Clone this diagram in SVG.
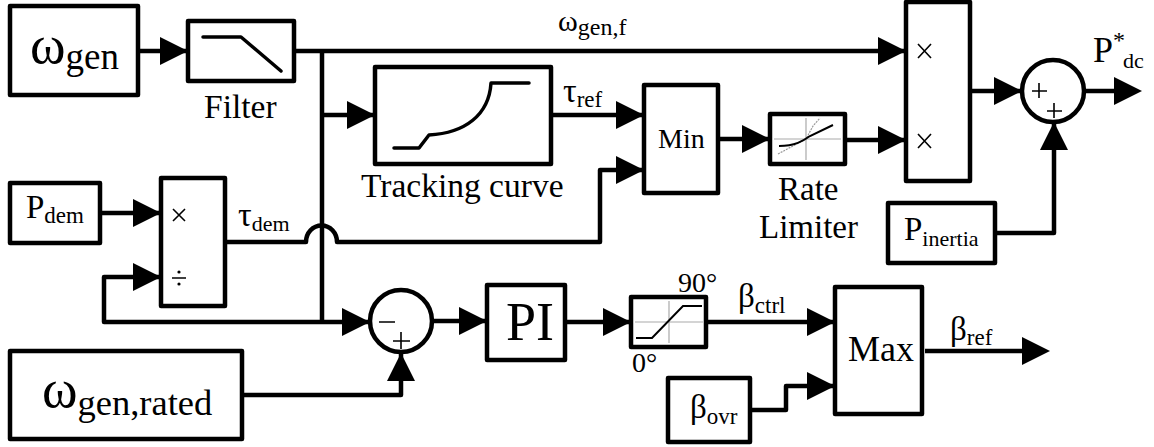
<svg xmlns="http://www.w3.org/2000/svg" width="1154" height="447" viewBox="0 0 1154 447">
<style>
text{font-family:"Liberation Serif","Times New Roman",serif;fill:#000}
.b{fill:#fff;stroke:#000;stroke-width:4.5;stroke-linejoin:round}
.w{fill:none;stroke:#000;stroke-width:4.5;stroke-linejoin:round}
.g{fill:none;stroke:#000;stroke-width:3.5;stroke-linecap:round;stroke-linejoin:round}
.t{fill:none;stroke:#000;stroke-width:1.6}
.a{fill:#aaa;stroke:#aaa;stroke-width:1.2}
</style>
<defs>
<marker id="ah" viewBox="0 0 28 28" refX="28" refY="14" markerWidth="28" markerHeight="28" markerUnits="userSpaceOnUse" orient="auto"><path d="M0 0L28 14L0 28Z" fill="#000"/></marker>
<marker id="af" viewBox="0 0 28 28" refX="18" refY="14" markerWidth="28" markerHeight="28" markerUnits="userSpaceOnUse" orient="auto"><path d="M0 0L28 14L0 28Z" fill="#000"/></marker>
</defs>
<g id="connectors">
<path class="w" d="M138 51H188" marker-end="url(#ah)"/>
<path class="w" d="M294 51H906" marker-end="url(#ah)"/>
<path class="w" d="M322 51V322"/>
<path class="w" d="M322 115H375" marker-end="url(#ah)"/>
<path class="w" d="M551 115H644" marker-end="url(#ah)"/>
<path class="w" d="M225 242H306A15 16 0 0 1 337 242H600V170H644" marker-end="url(#ah)"/>
<path class="w" d="M718 139H770" marker-end="url(#ah)"/>
<path class="w" d="M845 140H906" marker-end="url(#ah)"/>
<path class="w" d="M970 91H1022" marker-end="url(#ah)"/>
<path class="w" d="M1084 91H1132" marker-end="url(#af)"/>
<path class="w" d="M995 233H1054V122" marker-end="url(#ah)"/>
<path class="w" d="M100 213H161" marker-end="url(#ah)"/>
<path class="w" d="M322 322H104V277H161" marker-end="url(#ah)"/>
<path class="w" d="M322 322H370" marker-end="url(#ah)"/>
<path class="w" d="M242 395H401V353" marker-end="url(#ah)"/>
<path class="w" d="M432 321H487" marker-end="url(#ah)"/>
<path class="w" d="M565 322H631" marker-end="url(#ah)"/>
<path class="w" d="M707 322H835" marker-end="url(#ah)"/>
<path class="w" d="M925 351H1040" marker-end="url(#af)"/>
<path class="w" d="M750 410H786V386H835" marker-end="url(#ah)"/>
</g>
<g id="omega-gen"><rect class="b" x="10" y="6" width="128" height="89"/><text x="30" y="63" font-size="54">ω<tspan font-size="37" dy="6">gen</tspan></text></g>
<g id="filter"><rect class="b" x="188" y="21" width="106" height="60"/><path class="g" d="M203 37H241L281 71"/><text x="204" y="118" font-size="33.5">Filter</text></g>
<g id="tracking-curve"><rect class="b" x="375" y="67" width="176" height="97"/><path class="g" d="M394 148H419L429 135C465 133 489 115 491 83H529"/><text x="361" y="197" font-size="33.5">Tracking curve</text></g>
<g id="min"><rect class="b" x="644" y="85" width="74" height="108"/><text x="658" y="148" font-size="28">Min</text></g>
<g id="rate-limiter"><rect class="b" x="770" y="114" width="75" height="50"/>
<path class="a" d="M774 139H841M806 118V160"/><path d="M778 154L806 139L813 126L820 118" fill="none" stroke="#999" stroke-width="1.2" stroke-dasharray="2 1"/><path d="M779 146C795 146 803 141 810 136L833 125" fill="none" stroke="#000" stroke-width="2"/>
<text x="778" y="200" font-size="33">Rate</text><text x="759" y="238" font-size="33">Limiter</text></g>
<g id="product"><rect class="b" x="906" y="2" width="64" height="179"/><path class="t" d="M918 44L931 58M931 44L918 58M918 134L931 148M931 134L918 148"/></g>
<g id="sum-dc"><circle class="b" cx="1053" cy="91" r="31"/><path class="t" d="M1032 91H1047M1039 83V98M1047 111H1062M1054 103V118"/><text x="1093" y="62" font-size="36">P<tspan font-size="24" dy="-14">*</tspan></text><text x="1123" y="68" font-size="22">dc</text></g>
<g id="p-inertia"><rect class="b" x="888" y="203" width="107" height="60"/><text x="904" y="240" font-size="33">P<tspan font-size="22" dy="6">inertia</tspan></text></g>
<g id="p-dem"><rect class="b" x="10" y="183" width="90" height="60"/><text x="26" y="218" font-size="33">P<tspan font-size="23" dy="5">dem</tspan></text></g>
<g id="divide"><rect class="b" x="161" y="178" width="64" height="128"/><path class="t" d="M173 209L185 221M185 209L173 221M172 278H186"/><circle cx="179" cy="272" r="1.6"/><circle cx="179" cy="284" r="1.6"/></g>
<g id="sum-pi"><circle class="b" cx="401" cy="321" r="31"/><path class="t" d="M379 322H395M393 341H410M401 332V349"/></g>
<g id="omega-rated"><rect class="b" x="10" y="351" width="232" height="88"/><text x="42" y="407" font-size="54">ω<tspan font-size="36.5" dy="8">gen,rated</tspan></text></g>
<g id="pi"><rect class="b" x="487" y="285" width="78" height="75"/><text x="506" y="340" font-size="54">PI</text></g>
<g id="saturation"><rect class="b" x="631" y="297" width="75" height="50"/><path class="a" d="M635 322H703M669 301V343"/><path d="M636 338H652L683 306H702" fill="none" stroke="#000" stroke-width="2"/></g>
<g id="max"><rect class="b" x="835" y="287" width="87" height="127"/><text x="848" y="361" font-size="36">Max</text></g>
<g id="beta-ovr"><rect class="b" x="668" y="378" width="82" height="64"/><text x="690" y="418" font-size="33">β<tspan font-size="23" dy="6">ovr</tspan></text></g>
<g id="labels">
<text x="558" y="31" font-size="30">ω<tspan font-size="24" dy="4">gen,f</tspan></text>
<text x="563" y="102" font-size="34">τ<tspan font-size="23" dy="5">ref</tspan></text>
<text x="238" y="226" font-size="34">τ<tspan font-size="22" dy="5">dem</tspan></text>
<text x="678" y="292" font-size="28">90°</text>
<text x="632" y="372" font-size="28">0°</text>
<text x="738" y="307" font-size="33">β<tspan font-size="23" dy="6">ctrl</tspan></text>
<text x="950" y="340" font-size="33">β<tspan font-size="23" dy="5">ref</tspan></text>
</g>
</svg>
